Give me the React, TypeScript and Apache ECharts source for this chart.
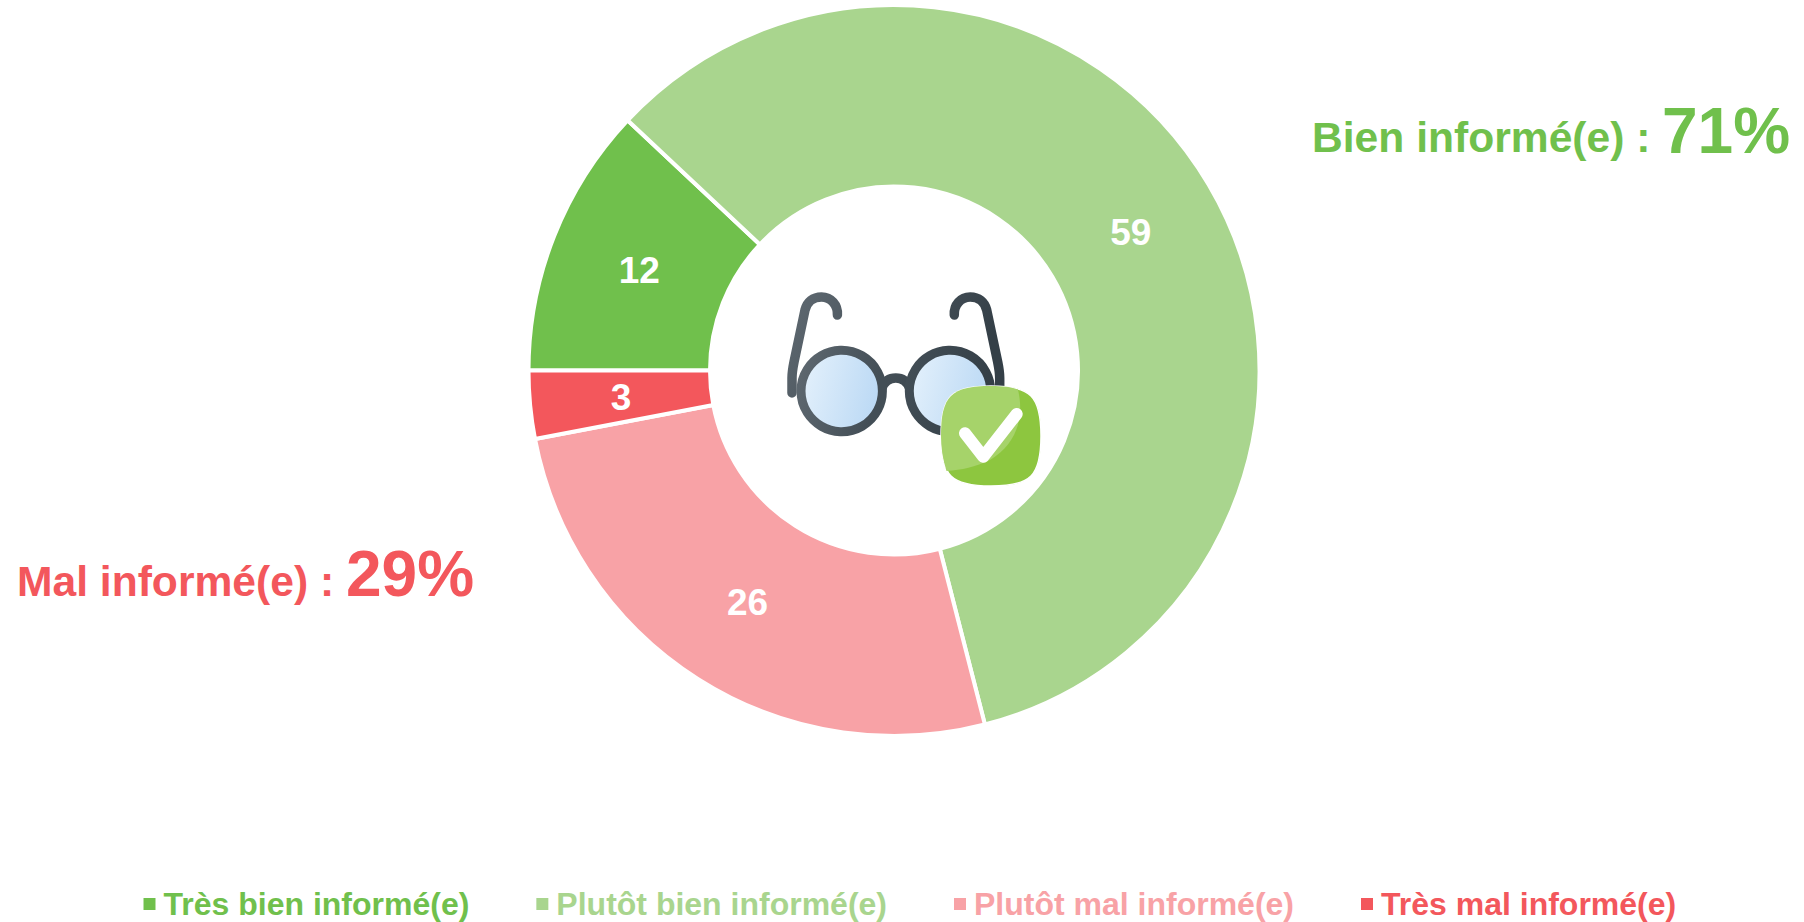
import React, { useEffect, useRef } from "react";
import * as echarts from "echarts";

const categories = ["Très bien informé(e)", "Plutôt bien informé(e)", "Plutôt mal informé(e)", "Très mal informé(e)"];
const values = [12, 59, 26, 3];
const colors = ["#70c04c", "#a9d58e", "#f8a2a6", "#f3575c"];
const labelOffsets = [[3.5, 2.3], [-2.3, 3.5], [2.3, -2.3], [3.5, 1]];
const FONT = "'Liberation Sans', Arial, sans-serif";

const GREEN = "#70c04c";
const RED = "#f3575c";

echarts.graphic.registerShape(
  "frameParts",
  echarts.graphic.extendPath(
    "M792 393 L792 378 Q792 372 794 362 L805 310 C807 302 813 297 821.5 297 C831 297 838 305 837.4 315 " +
      "M999.7 393 L999.7 378 Q999.7 372 997.7 362 L986.7 310 C984.7 302 978.7 297 970.2 297 C960.7 297 953.7 305 954.3 315 " +
      "M882 388 C885 380 890 378 895.8 378 C901.5 378 906.5 380 909.5 388",
    {}
  )
);
echarts.graphic.registerShape(
  "badgeBody",
  echarts.graphic.extendPath(
    "M991 386 C1031 386 1041 396 1041 436 C1041 476 1031 486 991 486 C951 486 941 476 941 436 C941 396 951 386 991 386 Z",
    {}
  )
);
echarts.graphic.registerShape(
  "badgeLight",
  echarts.graphic.extendPath(
    "M991 386 C1002 386 1012 387 1018 389.5 C1025 420 1015 445 990 460 C975 467 962 470 946.5 471 C943 460 941 448 941 436 C941 396 951 386 991 386 Z",
    {}
  )
);

export default function App() {
  const ref = useRef<HTMLDivElement>(null);
  useEffect(() => {
    const chart = echarts.init(ref.current!, null, { renderer: "svg" });
    const grad = (a: string, b: string) =>
      new echarts.graphic.LinearGradient(0, 0, 1, 0.25, [
        { offset: 0, color: a },
        { offset: 1, color: b },
      ]);
    const lensGrad = () => grad("#e6f2fc", "#bddaf5");
    chart.setOption({
      animation: false,
      backgroundColor: "#ffffff",
      legend: {
        left: 143.5,
        top: 888,
        padding: 0,
        icon: "rect",
        itemWidth: 12,
        itemHeight: 12,
        itemGap: 67,
        selectedMode: false,
        itemStyle: { borderWidth: 0 },
        data: categories.map((name, i) => ({
          name,
          textStyle: { color: colors[i] },
        })),
        textStyle: {
          fontFamily: FONT,
          fontWeight: "bold",
          fontSize: 32,
          padding: [0, 0, 0, 3],
        },
      },
      series: [
        {
          type: "pie",
          center: [894, 370.5],
          radius: [184, 365.5],
          startAngle: 180,
          clockwise: true,
          silent: true,
          itemStyle: { borderColor: "#ffffff", borderWidth: 4 },
          label: {
            show: true,
            position: "inside",
            formatter: "{c}",
            color: "#ffffff",
            fontFamily: FONT,
            fontWeight: "bold",
            fontSize: 37,
          },
          labelLine: { show: false },
          data: categories.map((name, i) => ({
            name,
            value: values[i],
            itemStyle: { color: colors[i] },
            label: { offset: labelOffsets[i] },
          })),
        },
      ],
      graphic: [
        { type: "text", left: 1312, top: 115.5, style: { text: "Bien informé(e) :", fill: GREEN, font: `bold 42.6px ${FONT}` } },
        { type: "text", left: 1662, top: 99, style: { text: "71%", fill: GREEN, font: `bold 64px ${FONT}` } },
        { type: "text", left: 17, top: 559.5, style: { text: "Mal informé(e) :", fill: RED, font: `bold 42.6px ${FONT}` } },
        { type: "text", left: 346, top: 542, style: { text: "29%", fill: RED, font: `bold 64px ${FONT}` } },
        { type: "frameParts", x: 0, y: 0, style: { fill: "none", stroke: grad("#5e6870", "#343f47"), lineWidth: 9.5, lineCap: "round" } },
        { type: "circle", shape: { cx: 841.7, cy: 391, r: 40.7 }, style: { fill: lensGrad(), stroke: grad("#5e6870", "#434e56"), lineWidth: 9 } },
        { type: "circle", shape: { cx: 950, cy: 391, r: 40.7 }, style: { fill: lensGrad(), stroke: grad("#434e56", "#343f47"), lineWidth: 9 } },
        { type: "badgeBody", x: 0, y: 0, style: { fill: "#8dc63f", stroke: "#ffffff", lineWidth: 1.5 } },
        { type: "badgeLight", x: 0, y: 0, style: { fill: "#a6d36a" } },
        {
          type: "polyline",
          shape: { points: [[965, 433.3], [983.3, 456.7], [1016.7, 414]] },
          style: { fill: "none", stroke: "#ffffff", lineWidth: 12, lineCap: "round", lineJoin: "round" },
        },
      ],
    });
    return () => chart.dispose();
  }, []);
  return <div ref={ref} style={{ position: "absolute", left: 0, top: 0, width: 1804, height: 922 }} />;
}
